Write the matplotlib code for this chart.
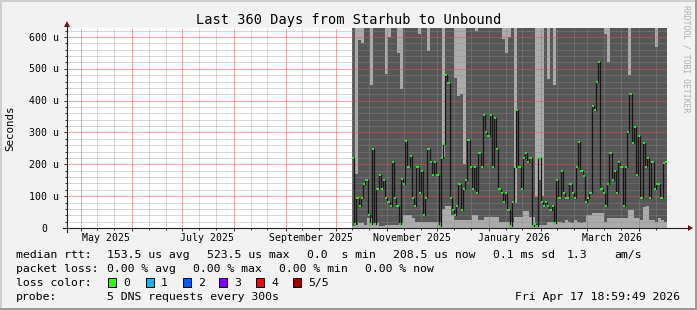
import numpy as np
import matplotlib
matplotlib.use('Agg')
import matplotlib.pyplot as plt
import matplotlib.dates as mdates
from matplotlib.patches import Rectangle, Polygon
from matplotlib.lines import Line2D
from matplotlib.ticker import MultipleLocator, NullFormatter
from datetime import datetime

W, H = 697, 310
plt.rcParams['font.family'] = ['DejaVu Sans Mono']

# time window of the graph and start of recorded data
view_start = datetime(2025, 4, 22, 19, 0)
view_end = datetime(2026, 4, 17, 19, 0)
data_start = datetime(2025, 10, 10, 19, 0)
y_top = 628  # microseconds

# smoke: one column every 1.8 days, values in microseconds (700 = above graph top)
smoke_days = 1.8
smoke_hi = [700, 170, 590, 580, 700, 700, 450, 700, 700, 700,
            700, 485, 600, 700, 700, 550, 437, 700, 700, 700,
            700, 700, 610, 700, 700, 556, 700, 700, 700, 700,
            223, 700, 700, 700, 470, 415, 420, 200, 700, 700,
            700, 620, 700, 700, 700, 700, 700, 700, 700, 700,
            594, 550, 600, 700, 80, 700, 700, 700, 700, 700,
            700, 97, 150, 100, 700, 469, 700, 450, 700, 700,
            700, 700, 700, 700, 700, 700, 700, 700, 700, 700,
            700, 700, 700, 700, 610, 520, 700, 700, 700, 700,
            700, 700, 481, 700, 700, 700, 700, 700, 700, 700,
            700, 567, 700, 700, 700]
smoke_lo = [5, 10, 15, 15, 10, 31, 31, 15, 15, 5,
            5, 10, 10, 10, 10, 10, 15, 41, 41, 41,
            30, 20, 20, 20, 20, 20, 20, 20, 20, 20,
            60, 69, 69, 40, 26, 26, 26, 26, 26, 26,
            41, 41, 26, 26, 35, 35, 35, 35, 35, 20,
            20, 20, 20, 20, 36, 36, 36, 52, 52, 36,
            36, 10, 10, 10, 10, 20, 20, 20, 20, 20,
            15, 25, 20, 15, 25, 20, 15, 20, 41, 41,
            47, 47, 47, 47, 20, 31, 31, 31, 31, 31,
            31, 31, 57, 57, 31, 31, 25, 66, 68, 25,
            25, 20, 30, 25, 20]

# median rtt in microseconds, evenly spaced over the data period
median_us = [220, 12, 95, 70, 95, 137, 150, 40, 12, 247, 12, 122, 165, 122, 150, 95, 82,
             70, 207, 95, 70, 12, 153, 138, 272, 190, 226, 95, 68, 192, 110, 178, 40, 95,
             249, 207, 165, 207, 165, 5, 220, 263, 481, 455, 95, 55, 40, 70, 137, 55, 122,
             150, 275, 192, 122, 192, 110, 234, 190, 356, 303, 289, 356, 190, 344, 247,
             122, 110, 82,
             110, 55, 5, 82, 193, 372, 190, 122, 220, 234, 207, 220, 5, 12, 5, 220, 82, 70,
             82, 70, 55, 70, 15, 150, 95, 178, 110, 95, 95, 137, 110, 95, 193, 270, 178,
             163, 82,
             95, 110, 384, 372, 457, 520, 122, 110, 70, 137, 234, 150, 178, 110, 207, 192,
             70, 192, 301, 422, 266, 316, 165, 289, 95, 266, 192, 220, 95, 207, 122, 137,
             137, 95, 205, 207]

month_labels = ['May 2025', 'July 2025', 'September 2025',
                'November 2025', 'January 2026', 'March 2026']
month_label_dates = [datetime(2025, 5, 16), datetime(2025, 7, 16), datetime(2025, 9, 16),
                     datetime(2025, 11, 16), datetime(2026, 1, 16), datetime(2026, 3, 16)]
ytick_vals = [0, 100, 200, 300, 400, 500, 600]
ytick_labels = ['0', '100 u', '200 u', '300 u', '400 u', '500 u', '600 u']

loss_names = ['0', '1', '2', '3', '4', '5/5']
loss_colors = ['#26ff00', '#00b8ff', '#0059ff', '#7e00ff', '#ff0000', '#a10000']


def fx(x):
    return x / W


def fy(y):
    return 1 - y / H


fig = plt.figure(figsize=(W / 100, H / 100), dpi=100)
fig.patch.set_facecolor('#f2f2f2')
ax = fig.add_axes([fx(67), fy(228), 600 / W, 200 / H])
ax.set_facecolor('white')

# smoke
t0 = mdates.date2num(data_start)
ts = t0 + np.arange(len(smoke_hi) + 1) * smoke_days
hi = np.minimum(np.append(smoke_hi, smoke_hi[-1]), y_top)
lo = np.append(smoke_lo, smoke_lo[-1])
ax.fill_between(ts, 0, y_top, step='post', color='#ababab', lw=0, zorder=1)
ax.fill_between(ts, lo, hi, step='post', color='#575757', lw=0, zorder=1.1)

# median
dt = (ts[-1] - t0) / len(median_us)
tm = t0 + np.arange(len(median_us) + 1) * dt
ax.step(tm, np.append(median_us, median_us[-1]), where='post', color='#161616', lw=0.9, zorder=3)
ax.hlines(median_us, tm[:-1], tm[1:], color='#2ee62e', lw=1.4, zorder=4)

ax.set_xlim(mdates.date2num(view_start), mdates.date2num(view_end))
ax.set_ylim(0, y_top)

# grid (dotted, drawn over the smoke like rrdtool does)
ax.xaxis.set_major_locator(mdates.MonthLocator())
ax.xaxis.set_minor_locator(mdates.DayLocator(bymonthday=[11, 21]))
ax.xaxis.set_major_formatter(NullFormatter())
ax.yaxis.set_major_locator(MultipleLocator(100))
ax.yaxis.set_minor_locator(MultipleLocator(20))
ax.yaxis.set_major_formatter(NullFormatter())
ax.set_axisbelow(False)
ax.grid(which='minor', color='#8f8f8f', alpha=0.35, lw=0.72, ls=(0, (1, 1)),
        antialiased=False)
ax.grid(which='major', color='#e95050', alpha=0.5, lw=0.72, ls=(0, (1, 1)),
        antialiased=False)
ax.tick_params(which='both', direction='out', color='#303030', width=0.72)
ax.tick_params(which='major', length=2.2)
ax.tick_params(which='minor', length=1.5)
for s in ax.spines.values():
    s.set_visible(False)

# axis lines and arrows
fig.add_artist(Line2D([fx(63), fx(688)], [fy(228), fy(228)], color='#202020', lw=0.8))
fig.add_artist(Line2D([fx(67), fx(67)], [fy(232), fy(26)], color='#202020', lw=0.8))
fig.add_artist(Polygon([[fx(688), fy(225)], [fx(693), fy(228)], [fx(688), fy(231)]],
                       closed=True, color='#801010', lw=0))
fig.add_artist(Polygon([[fx(64), fy(27)], [fx(67), fy(21)], [fx(70), fy(27)]],
                       closed=True, color='#801010', lw=0))

# tick labels
for d, lab in zip(month_label_dates, month_labels):
    xp = ax.transData.transform((mdates.date2num(d), 0))[0]
    fig.text(xp / W, fy(241), lab, ha='center', va='baseline', fontsize=7.1)
for v, lab in zip(ytick_vals, ytick_labels):
    yp = 228 - v * 200 / y_top
    xr = 59 if lab != '0' else 47.3
    fig.text(fx(xr), fy(yp + 3.6), lab, ha='right', va='baseline', fontsize=7.1)

# titles
fig.text(fx(348.5), fy(24), 'Last 360 Days from Starhub to Unbound',
         ha='center', va='baseline', fontsize=9.8)
fig.text(fx(10), fy(128), 'Seconds', rotation=90, ha='center', va='center', fontsize=7.8)
fig.text(fx(686), fy(5), 'RRDTOOL / TOBI OETIKER', rotation=-90, ha='center', va='top',
         fontsize=5.9, color='#b0b0b0')

# legend
fs = 8.25
rows = [
    (258, [(16, 'median rtt:'), (107, '153.5 us avg'), (207, '523.5 us max'),
           (307, '0.0  s min'), (393, '208.5 us now'), (493, '0.1 ms sd'),
           (567, '1.3'), (614, 'am/s')]),
    (272, [(16, 'packet loss:'), (107, '0.00 % avg'), (193, '0.00 % max'),
           (279, '0.00 % min'), (365, '0.00 % now')]),
    (286, [(16, 'loss color:')]),
    (300, [(16, 'probe:'), (107, '5 DNS requests every 300s')]),
]
for yb, items in rows:
    for xl, s in items:
        fig.text(fx(xl), fy(yb), s, ha='left', va='baseline', fontsize=fs)

box_x = [108, 146, 183, 219, 256, 293]
for bx, name, col in zip(box_x, loss_names, loss_colors):
    fig.add_artist(Rectangle((fx(bx), fy(286.5)), 8 / W, 9 / H, transform=fig.transFigure,
                             facecolor=col, edgecolor='black', lw=0.7))
    fig.text(fx(bx + 15), fy(286), name, ha='left', va='baseline', fontsize=fs)

fig.text(fx(680), fy(300), 'Fri Apr 17 18:59:49 2026', ha='right', va='baseline', fontsize=fs)

# frame
fig.add_artist(Rectangle((0, fy(2)), 1, 2 / H, transform=fig.transFigure, color='#cfcfcf', lw=0))
fig.add_artist(Rectangle((0, 0), 2 / W, 1, transform=fig.transFigure, color='#cfcfcf', lw=0))
fig.add_artist(Rectangle((0, 0), 1, 2 / H, transform=fig.transFigure, color='#9a9a9a', lw=0))
fig.add_artist(Rectangle((fx(695), 0), 2 / W, 1, transform=fig.transFigure, color='#9a9a9a', lw=0))

fig.savefig('out.png', dpi=100, facecolor=fig.get_facecolor())
